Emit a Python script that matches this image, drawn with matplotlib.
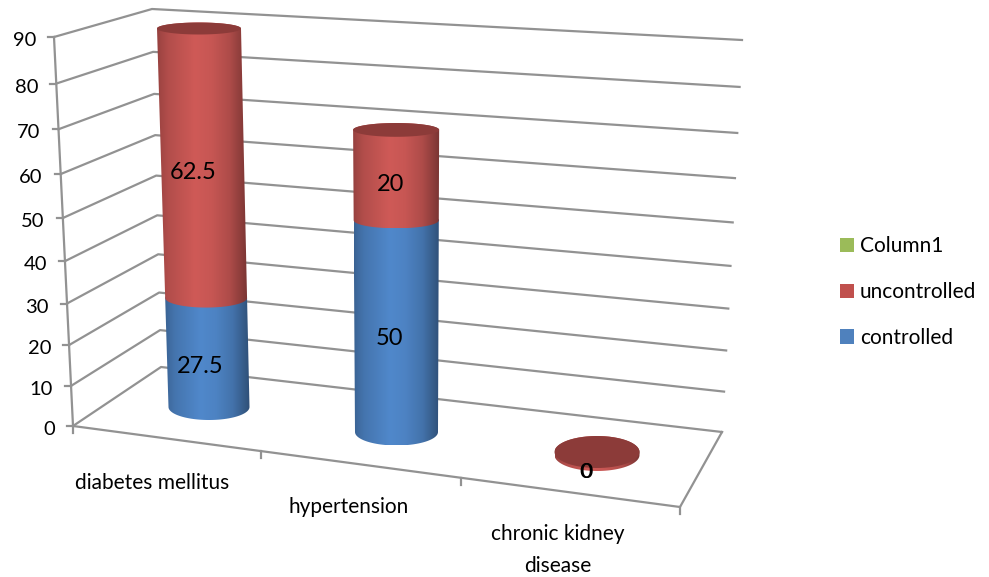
import numpy as np
import matplotlib
matplotlib.use("Agg")
import matplotlib.pyplot as plt
from matplotlib.patches import Patch, PathPatch, Polygon
from matplotlib.path import Path

plt.rcParams['font.family'] = ['Lato', 'DejaVu Sans']

# data
categorias = ["diabetes mellitus", "hypertension", "chronic kidney\ndisease"]
controlled = [27.5, 50, 0]
uncontrolled = [62.5, 20, 0]
column1 = [0, 0, 0]
ticks_y = [0, 10, 20, 30, 40, 50, 60, 70, 80, 90]

# chart box, in pixels of the picture
FRENTE_ESQ = ((73, 426), (54, 37))
FUNDO_ESQ = ((161, 367), (152, 9))
FUNDO_DIR = ((722, 432), (742, 40))
FRENTE_DIR = (680, 507)
Y_MAX = 90
K = 1.088  # perspective of the value axis

# cylinders: base centre, top centre (at Y_MAX), x radius base/top, y radius base/top
CIL_BASE = [(209, 407), (396.5, 432), (597, 455)]
CIL_TOPO = [(199, 28.5), (396, 36), (597, 55)]
CIL_RX = [(40.5, 42), (41.5, 43.5), (42.5, 42.5)]
CIL_RY = [(13, 6), (13.5, 6.5), (16, 7)]
DISCO_MIN = 3

# lighting across a cylinder
LUZ_POS = [0, 0.04, 0.12, 0.42, 0.6, 0.8, 0.94, 1]
LUZ_VAL = [0.72, 0.78, 0.86, 1.0, 0.96, 0.84, 0.66, 0.58]
COR_RED = np.array([207, 90, 87]) / 255
COR_BLUE = np.array([80, 136, 203]) / 255
TAMPA_RED = "#8c3b39"
GRADE = "#929292"
LW = 1.6


def escala(v):
    t = v / Y_MAX
    return t / (t + (1 - t) * K)


def lerp(a, b, s):
    return (a[0] + (b[0] - a[0]) * s, a[1] + (b[1] - a[1]) * s)


def arco(i, s, ini, fim, levanta=0):
    # screen points of an ellipse slice of cylinder i at height s
    cx, cy = lerp(CIL_BASE[i], CIL_TOPO[i], s)
    rx = CIL_RX[i][0] + (CIL_RX[i][1] - CIL_RX[i][0]) * s
    ry = CIL_RY[i][1] + (CIL_RY[i][0] - CIL_RY[i][1]) * (1 - s) ** 2
    ang = np.linspace(ini, fim, 60)
    return np.column_stack([cx + rx * np.cos(ang), cy - levanta + ry * np.sin(ang)])


def gomo(ax, i, v0, v1, cor, tampa=None):
    s0, s1 = escala(v0), escala(v1)
    levanta = DISCO_MIN if v1 == v0 else 0
    baixo = arco(i, s0, np.pi, 0)
    cima = arco(i, s1, 0, -np.pi, levanta)
    pts = np.vstack([baixo, cima, baixo[:1]])
    forma = PathPatch(Path(pts), transform=ax.transData, fc="none", ec="none")
    ax.add_patch(forma)
    luz = np.interp(np.linspace(0, 1, 256), LUZ_POS, LUZ_VAL)
    img = np.clip(luz[None, :, None] * cor, 0, 1)
    x0, x1 = pts[:, 0].min(), pts[:, 0].max()
    y0, y1 = pts[:, 1].min(), pts[:, 1].max()
    im = ax.imshow(img, extent=(x0, x1, y1, y0), aspect="auto", zorder=3, interpolation="bilinear")
    im.set_clip_path(forma)
    if tampa:
        ax.add_patch(Polygon(arco(i, s1, 0, 2 * np.pi, levanta), fc=tampa, ec="none", zorder=3))


fig = plt.figure(figsize=(9.89, 5.77), dpi=100)
ax = fig.add_axes([0, 0, 1, 1])

# gridlines on both walls
for v in ticks_y:
    s = escala(v)
    p0 = lerp(*FRENTE_ESQ, s)
    p1 = lerp(*FUNDO_ESQ, s)
    p2 = lerp(*FUNDO_DIR, s)
    ax.plot([p0[0], p1[0], p2[0]], [p0[1], p1[1], p2[1]], color=GRADE, lw=LW, zorder=1)
    ax.plot([p0[0] - 6, p0[0]], [p0[1], p0[1]], color=GRADE, lw=LW, zorder=1)
    ax.text(p0[0] - 18, p0[1] + 3.5, str(v), ha="right", va="center", fontsize=14.5, color="black")

# axis and floor edges
ax.plot(*zip(*FRENTE_ESQ), color=GRADE, lw=LW, zorder=1)
ax.plot(*zip(FRENTE_ESQ[0], FRENTE_DIR, FUNDO_DIR[0]), color=GRADE, lw=LW, zorder=1)
for f in [0, 0.31, 0.64, 1]:
    q = lerp(FRENTE_ESQ[0], FRENTE_DIR, f)
    ax.plot([q[0], q[0]], [q[1], q[1] + 7], color=GRADE, lw=LW, zorder=1)

# stacked cylinders
for i in range(len(categorias)):
    if controlled[i] > 0:
        gomo(ax, i, 0, controlled[i], COR_BLUE)
    gomo(ax, i, controlled[i], controlled[i] + uncontrolled[i], COR_RED, TAMPA_RED)

# value labels
rotulos = [(0, 0, controlled[0], -7.5, 13), (1, 0, controlled[1], -7, 10),
           (0, controlled[0], uncontrolled[0], -10, 5), (1, controlled[1], uncontrolled[1], -6, 9)]
for i, base, val, dx, dy in rotulos:
    cx, cy = lerp(CIL_BASE[i], CIL_TOPO[i], escala(base + val / 2))
    ax.text(cx + dx, cy + dy, f"{val:g}", ha="center", va="center", fontsize=17, color="black", zorder=5)
for dx in (-11.5, -10):
    cx, cy = CIL_BASE[2]
    ax.text(cx + dx, cy + 17, f"{uncontrolled[2]:g}", ha="center", va="center", fontsize=15.5, color="black", zorder=5)

# category labels
pos_cat = [(152, 483), (349, 507), (558, 550)]
for nome, (x, y) in zip(categorias, pos_cat):
    ax.text(x, y, nome, ha="center", va="center", fontsize=15, linespacing=1.75, color="black")

handles = [Patch(fc="#9bbb59"), Patch(fc="#c0504d"), Patch(fc="#4f81bd")]
ax.legend(handles, ["Column1", "uncontrolled", "controlled"], loc="center left",
          bbox_to_anchor=(840, 292), bbox_transform=ax.transData, frameon=False,
          fontsize=15, handlelength=0.67, handleheight=0.67, handletextpad=0.28,
          labelspacing=1.24, borderaxespad=0, borderpad=0, labelcolor="black")

ax.set_xlim(0, 989)
ax.set_ylim(577, 0)
ax.axis("off")
fig.savefig("out.png", dpi=100)
